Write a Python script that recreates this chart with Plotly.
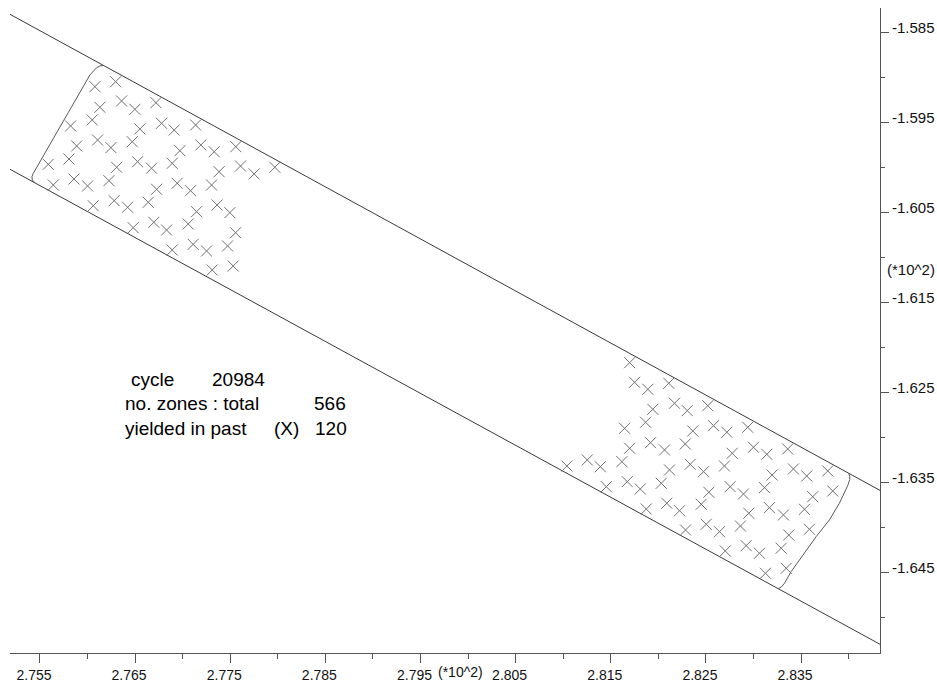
import plotly.graph_objects as go

# Axis extents (values in units of 10^2)
x_range = [2.75185, 2.84330]
y_range = [-1.65397, -1.58230]

# Tick positions and labels
x_tick_vals = [2.755, 2.765, 2.775, 2.785, 2.795, 2.805, 2.815, 2.825, 2.835]
x_tick_text = ["2.755", "2.765", "2.775", "2.785", "2.795", "2.805", "2.815", "2.825", "2.835"]
y_tick_vals = [-1.585, -1.595, -1.605, -1.615, -1.625, -1.635, -1.645]
y_tick_text = ["-1.585", "-1.595", "-1.605", "-1.615", "-1.625", "-1.635", "-1.645"]

# Straight edges of the inclined band
upper_edge_x = [2.75185, 2.84330]
upper_edge_y = [-1.58300, -1.63590]
lower_edge_x = [2.75185, 2.84330]
lower_edge_y = [-1.60022, -1.65300]

# Rounded end caps of the meshed region
left_cap_x = [2.75448, 2.75419, 2.75416, 2.75430, 2.76025, 2.76096, 2.76130, 2.76165]
left_cap_y = [-1.60172, -1.60141, -1.60104, -1.60067, -1.58974, -1.58893, -1.58874, -1.58869]
right_cap_x = [2.84001, 2.84012, 2.84012, 2.83991, 2.83903, 2.83798, 2.83659,
               2.83518, 2.83396, 2.83326, 2.83294, 2.83263]
right_cap_y = [-1.63400, -1.63433, -1.63469, -1.63536, -1.63733, -1.63919, -1.64104,
               -1.64308, -1.64493, -1.64622, -1.64663, -1.64680]

# Zones that yielded in the past -- upper-left group
yield_left_x = [2.76078, 2.76295, 2.76130, 2.76358, 2.76498, 2.76719, 2.75822, 2.76049,
                2.76550, 2.76778, 2.76911, 2.77136, 2.75886, 2.76106, 2.76246, 2.76470,
                2.76971, 2.77191, 2.77331, 2.77559, 2.75587, 2.75805, 2.76306, 2.76526,
                2.76673, 2.76890, 2.77383, 2.77608, 2.77751, 2.77969, 2.75640, 2.75857,
                2.76001, 2.76225, 2.76726, 2.76942, 2.77083, 2.77304, 2.76060, 2.76280,
                2.76421, 2.76638, 2.77146, 2.77362, 2.77496, 2.76480, 2.76697, 2.76831,
                2.77058, 2.77556, 2.76890, 2.77110, 2.77251, 2.77472, 2.77310, 2.77531]
yield_left_y = [-1.59104, -1.59049, -1.59333, -1.59263, -1.59356, -1.59282, -1.59541, -1.59474,
                -1.59574, -1.59511, -1.59586, -1.59530, -1.59763, -1.59697, -1.59782, -1.59716,
                -1.59816, -1.59752, -1.59827, -1.59771, -1.59967, -1.59908, -1.60000, -1.59938,
                -1.60011, -1.59956, -1.60049, -1.59986, -1.60074, -1.60000, -1.60197, -1.60130,
                -1.60208, -1.60149, -1.60244, -1.60178, -1.60260, -1.60197, -1.60427, -1.60371,
                -1.60444, -1.60389, -1.60493, -1.60419, -1.60504, -1.60671, -1.60611, -1.60697,
                -1.60630, -1.60727, -1.60919, -1.60856, -1.60930, -1.60874, -1.61141, -1.61097]

# Zones that yielded in the past -- lower-right group
yield_right_x = [2.81698, 2.81750, 2.81890, 2.82110, 2.81942, 2.82170, 2.82304, 2.82520,
                 2.81645, 2.81866, 2.82362, 2.82580, 2.82720, 2.82940, 2.81698, 2.81918,
                 2.82065, 2.82283, 2.82776, 2.83000, 2.83140, 2.83360, 2.81039, 2.81253,
                 2.81390, 2.81617, 2.82118, 2.82335, 2.82475, 2.82695, 2.83196, 2.83420,
                 2.83560, 2.83781, 2.81453, 2.81673, 2.81810, 2.82031, 2.82531, 2.82755,
                 2.82895, 2.83116, 2.83623, 2.83833, 2.81873, 2.82089, 2.82223, 2.82451,
                 2.82951, 2.83168, 2.83315, 2.83536, 2.82286, 2.82503, 2.82643, 2.82863,
                 2.83371, 2.83588, 2.82703, 2.82923, 2.83063, 2.83291, 2.83126, 2.83344]
yield_right_y = [-1.62171, -1.62389, -1.62467, -1.62400, -1.62689, -1.62622, -1.62704, -1.62649,
                 -1.62900, -1.62833, -1.62930, -1.62871, -1.62944, -1.62889, -1.63122, -1.63060,
                 -1.63141, -1.63074, -1.63178, -1.63111, -1.63189, -1.63130, -1.63319, -1.63252,
                 -1.63327, -1.63271, -1.63363, -1.63300, -1.63382, -1.63319, -1.63419, -1.63352,
                 -1.63430, -1.63374, -1.63549, -1.63493, -1.63574, -1.63511, -1.63611, -1.63549,
                 -1.63630, -1.63560, -1.63660, -1.63597, -1.63797, -1.63733, -1.63816, -1.63744,
                 -1.63844, -1.63782, -1.63863, -1.63800, -1.64030, -1.63967, -1.64049, -1.63986,
                 -1.64086, -1.64022, -1.64263, -1.64204, -1.64289, -1.64233, -1.64511, -1.64456]

# Summary block
cycle_no = 20984
zones_total = 566
zones_yielded = 120

FONT = "Liberation Sans, Arial, sans-serif"
EDGE = "#3a3a3a"
CAP = "#5a5a5a"
MARK = "#707070"
X_TICK_FONT = dict(family=FONT, size=14, color="#111111")
Y_TICK_FONT = dict(family=FONT, size=15, color="#111111")

fig = go.Figure()

for xs, ys, col in [(upper_edge_x, upper_edge_y, EDGE), (lower_edge_x, lower_edge_y, EDGE),
                    (left_cap_x, left_cap_y, CAP), (right_cap_x, right_cap_y, CAP)]:
    fig.add_trace(go.Scatter(x=xs, y=ys, mode="lines",
                             line=dict(color=col, width=1), hoverinfo="skip"))

for xs, ys in [(yield_left_x, yield_left_y), (yield_right_x, yield_right_y)]:
    fig.add_trace(go.Scatter(x=xs, y=ys, mode="markers",
                             marker=dict(symbol="x-thin", size=11,
                                         line=dict(width=1, color=MARK))))

axis_common = dict(showgrid=False, zeroline=False, showline=True, linecolor="#555555",
                   linewidth=1, ticks="outside", tickcolor="#555555", tickwidth=1,
                   automargin=False, tickmode="array")

fig.update_xaxes(range=x_range, tickvals=x_tick_vals, ticktext=x_tick_text,
                 ticklen=9, ticklabelshift=-6, tickfont=X_TICK_FONT,
                 minor=dict(ticks="outside", ticklen=5, dtick=0.005, tick0=2.755,
                            tickcolor="#555555"),
                 **axis_common)
fig.update_yaxes(range=y_range, side="right", tickvals=y_tick_vals, ticktext=y_tick_text,
                 ticklen=8, ticklabelshift=-5, ticklabelstandoff=0, tickfont=Y_TICK_FONT,
                 minor=dict(ticks="outside", ticklen=4, dtick=0.005, tick0=-1.585,
                            tickcolor="#555555"),
                 **axis_common)

ann_font = dict(family=FONT, size=19, color="#000000")
text_items = [
    ("cycle", 2.76435, -1.62363),
    (str(cycle_no), 2.77286, -1.62363),
    ("no. zones : total", 2.76372, -1.62630),
    (str(zones_total), 2.78357, -1.62630),
    ("yielded in past", 2.76372, -1.62897),
    ("(X)", 2.77934, -1.62897),
    (str(zones_yielded), 2.78368, -1.62897),
]
for txt, ax_, ay_ in text_items:
    fig.add_annotation(x=ax_, y=ay_, xref="x", yref="y", text=txt, showarrow=False,
                       xanchor="left", yanchor="middle", font=ann_font)

# scale markers on both axes
fig.add_annotation(x=2.79662, y=-0.0300, xref="x", yref="paper", text="(*10^2)",
                   showarrow=False, xanchor="left", yanchor="middle", font=X_TICK_FONT)
fig.add_annotation(x=1.0058, y=-1.61141, xref="paper", yref="y", text="(*10^2)",
                   showarrow=False, xanchor="left", yanchor="middle", font=Y_TICK_FONT)

fig.update_layout(width=937, height=682, showlegend=False,
                  margin=dict(l=10, r=57, t=8, b=29),
                  paper_bgcolor="white", plot_bgcolor="white")

fig.write_html("out.html")
